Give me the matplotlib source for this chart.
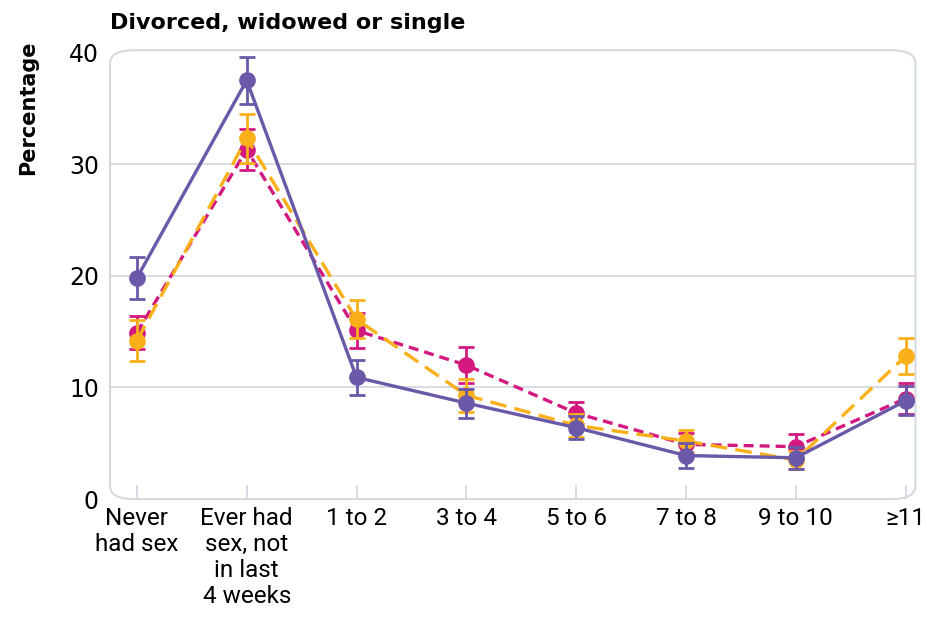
import numpy as np
import matplotlib
matplotlib.use("Agg")
import matplotlib.pyplot as plt
from matplotlib.patches import FancyBboxPatch

categories = ["Never\nhad sex", "Ever had\nsex, not\nin last\n4 weeks", "1 to 2", "3 to 4",
              "5 to 6", "7 to 8", "9 to 10", "\u226511"]

# three series (no legend in the panel)
purple = [19.8, 37.5, 10.9, 8.6, 6.4, 3.9, 3.7, 8.8]
purple_err = [1.9, 2.1, 1.6, 1.3, 1.0, 1.1, 1.0, 1.3]
orange = [14.2, 32.3, 16.1, 9.3, 6.6, 5.2, 3.5, 12.8]
orange_err = [1.8, 2.2, 1.7, 1.5, 1.0, 1.0, 0.8, 1.6]
magenta = [14.9, 31.3, 15.1, 12.0, 7.7, 4.9, 4.7, 9.0]
magenta_err = [1.5, 1.8, 1.6, 1.6, 1.0, 1.0, 1.1, 1.4]

c_purple = "#6a58a8"
c_orange = "#fbb01a"
c_magenta = "#d3187f"
grid_c = "#d5d9e0"

narrow = ["Roboto", "DejaVu Sans"]

fig = plt.figure(figsize=(9.28, 6.2), dpi=100)
ax = fig.add_axes([0.1185, 0.195, 0.868, 0.724])

x = np.arange(len(categories))

ax.errorbar(x, magenta, yerr=magenta_err, color=c_magenta, lw=2.4, ls=(0, (3, 1.8)),
            marker="o", ms=11, capsize=6, elinewidth=2, capthick=2, zorder=3)
ax.errorbar(x, orange, yerr=orange_err, color=c_orange, lw=2.4, ls=(0, (5, 2.5)),
            marker="o", ms=11, capsize=6, elinewidth=2, capthick=2, zorder=4)
ax.errorbar(x, purple, yerr=purple_err, color=c_purple, lw=2.4, ls="-",
            marker="o", ms=11, capsize=6, elinewidth=2, capthick=2, zorder=5)

ax.set_xlim(-0.245, 7.09)
ax.set_ylim(0, 40.2)

for s in ax.spines.values():
    s.set_visible(False)
box = FancyBboxPatch((0, 0), 1, 1, boxstyle="round,pad=0,rounding_size=0.03",
                     transform=ax.transAxes, fill=False, ec=grid_c, lw=1.5,
                     clip_on=False, zorder=1)
ax.add_patch(box)

for g in [10, 20, 30]:
    ax.axhline(g, color=grid_c, lw=1.3, zorder=1)

ax.set_yticks([0, 10, 20, 30, 40])
ax.tick_params(axis="y", length=0, labelsize=17, pad=8)
ax.set_xticks(x)
ax.set_xticklabels(categories, fontsize=17.5, family=narrow, linespacing=1.15)
ax.tick_params(axis="x", direction="in", length=10, width=1.3, color=grid_c, pad=6)

fig.text(0.03, 0.935, "Percentage", fontsize=15, fontweight="bold", rotation=90,
         va="top", ha="center")
fig.text(0.118, 0.963, "Divorced, widowed or single", fontsize=16, fontweight="bold",
         va="center", ha="left")

fig.savefig("out.png", dpi=100)
